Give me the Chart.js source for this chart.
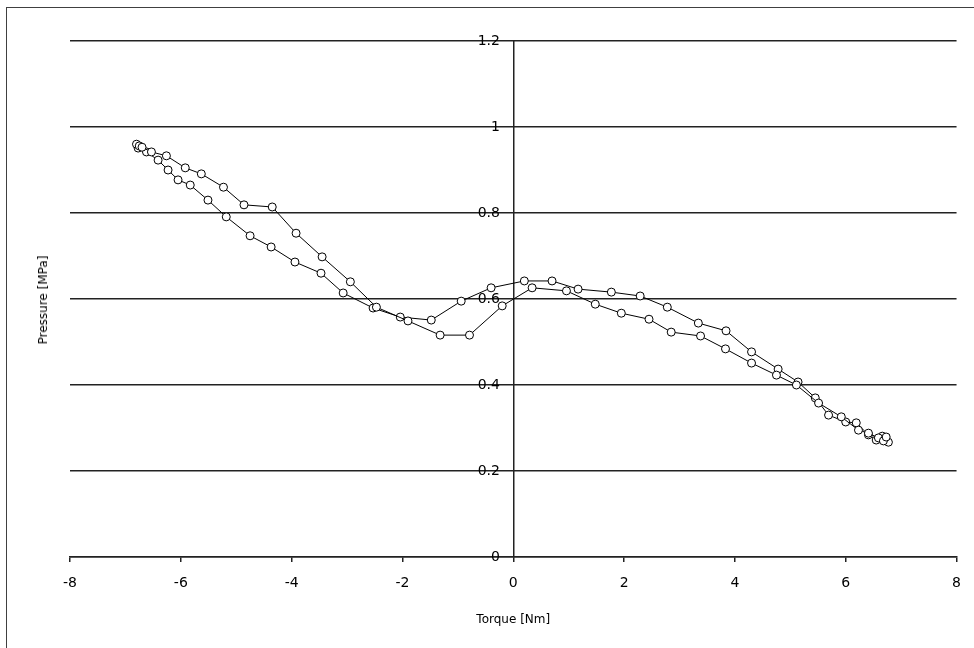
<!DOCTYPE html>
<html>
<head>
<meta charset="utf-8">
<script src="https://cdn.jsdelivr.net/npm/chart.js@4.4.1/dist/chart.umd.min.js"></script>
<style>
  body { margin: 0; background: #fff; }
  #wrap { position: relative; width: 974px; height: 648px; overflow: hidden; }
  #frame { position: absolute; left: 6px; top: 7px; width: 1000px; height: 700px; border: 1px solid #404040; }
  #ytitle { position: absolute; left: 43px; top: 300px; transform: translate(-50%, -50%) rotate(-90deg);
            font: 12px "DejaVu Sans", sans-serif; white-space: nowrap; color: #000; }
  canvas { position: absolute; left: 0; top: 0; }
</style>
</head>
<body>
<div id="wrap">
  <div id="frame"></div>
  <canvas id="chart" width="974" height="648"></canvas>
  <div id="ytitle">Pressure [MPa]</div>
</div>
<script>
// upper branch on the left side (Nm, MPa)
const torqueA = [-6.80, -6.75, -6.70, -6.53, -6.26, -5.92, -5.63, -5.23, -4.86, -4.35, -3.92, -3.45, -2.94, -2.47, -1.90, -1.32, -0.79, -0.20, 0.34, 0.96, 1.48, 1.95, 2.45, 2.85, 3.38, 3.83, 4.30, 4.75, 5.11, 5.51, 5.92, 6.23, 6.41, 6.59, 6.68, 6.73];
const pressureA = [0.960, 0.956, 0.953, 0.942, 0.933, 0.905, 0.891, 0.860, 0.819, 0.814, 0.753, 0.698, 0.640, 0.581, 0.549, 0.516, 0.516, 0.584, 0.626, 0.619, 0.588, 0.567, 0.553, 0.523, 0.514, 0.484, 0.451, 0.423, 0.400, 0.358, 0.326, 0.295, 0.288, 0.277, 0.270, 0.279];

// lower branch on the left side
const torqueB = [-6.77, -6.62, -6.41, -6.23, -6.05, -5.83, -5.51, -5.18, -4.75, -4.37, -3.94, -3.47, -3.07, -2.53, -2.04, -1.48, -0.94, -0.40, 0.20, 0.70, 1.17, 1.77, 2.29, 2.78, 3.34, 3.84, 4.30, 4.78, 5.14, 5.45, 5.69, 6.00, 6.19, 6.41, 6.55, 6.66, 6.77];
const pressureB = [0.951, 0.942, 0.923, 0.900, 0.877, 0.865, 0.830, 0.791, 0.747, 0.721, 0.686, 0.660, 0.614, 0.579, 0.558, 0.551, 0.595, 0.626, 0.642, 0.642, 0.623, 0.616, 0.607, 0.581, 0.544, 0.526, 0.477, 0.437, 0.407, 0.370, 0.330, 0.314, 0.312, 0.284, 0.272, 0.281, 0.267];

const xTicks = [-8, -6, -4, -2, 0, 2, 4, 6, 8];
const yTicks = [0, 0.2, 0.4, 0.6, 0.8, 1, 1.2];

function toPoints(xs, ys) {
    return xs.map((x, i) => ({ x: x, y: ys[i] }));
}

const seriesStyle = {
    showLine: true,
    borderColor: '#000',
    borderWidth: 1,
    pointRadius: 4,
    pointBackgroundColor: '#fff',
    pointBorderColor: '#000',
    pointBorderWidth: 1,
    tension: 0
};

const tickFont = { family: '"DejaVu Sans", sans-serif', size: 14 };
const titleFont = { family: '"DejaVu Sans", sans-serif', size: 12 };

new Chart(document.getElementById('chart'), {
    type: 'scatter',
    data: {
        datasets: [
            Object.assign({ label: 'A', data: toPoints(torqueA, pressureA) }, seriesStyle),
            Object.assign({ label: 'B', data: toPoints(torqueB, pressureB) }, seriesStyle)
        ]
    },
    options: {
        responsive: false,
        animation: false,
        layout: { padding: { left: 70, right: 17, top: 41, bottom: 0 } },
        plugins: { legend: { display: false }, tooltip: { enabled: false } },
        scales: {
            x: {
                type: 'linear',
                position: 'bottom',
                min: -8, max: 8,
                afterBuildTicks: s => { s.ticks = xTicks.map(v => ({ value: v })); },
                afterFit: s => { s.height = 91; },
                grid: { drawOnChartArea: false, drawTicks: true, tickLength: 5, color: '#222', lineWidth: 1.5 },
                border: { display: true, color: '#222', width: 1.5 },
                ticks: { color: '#000', font: tickFont, padding: 13, maxRotation: 0 },
                title: { display: true, text: 'Torque [Nm]', color: '#000', font: titleFont, padding: { top: 0, bottom: 21 } }
            },
            y: {
                type: 'linear',
                position: { x: 0 },
                min: 0, max: 1.2,
                afterBuildTicks: s => { s.ticks = yTicks.map(v => ({ value: v })); },
                grid: { color: '#222', lineWidth: 1.5, drawTicks: false },
                border: { display: true, color: '#222', width: 1.5 },
                // labels sit left of the centred axis; trailing spaces give the gap
                ticks: { color: '#000', font: tickFont, callback: v => String(+v.toFixed(1)) + '   ' }
            }
        }
    }
});
</script>
</body>
</html>
